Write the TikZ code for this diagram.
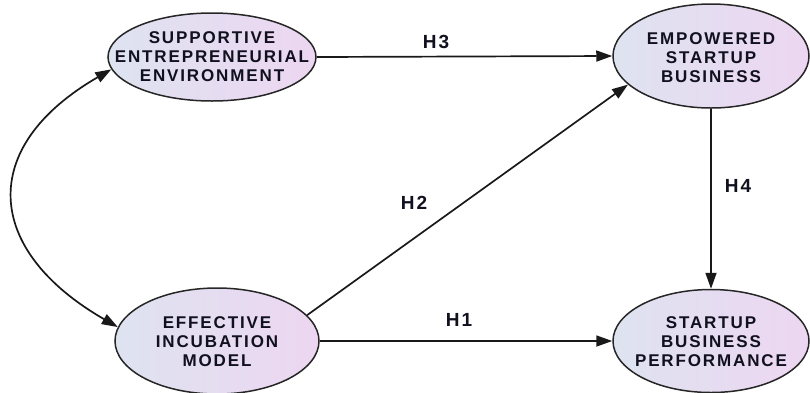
\documentclass[tikz,border=0pt]{standalone}
\usepackage{fontspec}
\setmainfont{Liberation Sans}
\usetikzlibrary{arrows.meta,shapes.geometric}
\definecolor{ellL}{HTML}{DEE3F0}
\definecolor{ellR}{HTML}{EDD6F1}
\definecolor{txt}{HTML}{10101E}
\tikzset{
  construct/.style={ellipse, draw=black!85, line width=1.5pt, left color=ellL, right color=ellR, inner sep=0pt},
  ctext/.style={align=center, text=txt, font=\fontsize{17}{19}\selectfont\bfseries\addfontfeatures{LetterSpace=11}},
  hyp/.style={text=txt, font=\fontsize{19}{21}\selectfont\bfseries\addfontfeatures{LetterSpace=10}},
  path/.style={draw=black!90, line width=1.7pt, -{Triangle[length=16pt,width=11pt]}},
  dpath/.style={draw=black!90, line width=1.7pt, {Triangle[length=16pt,width=11pt]}-{Triangle[length=16pt,width=11pt]}}
}
\begin{document}
\begin{tikzpicture}[x=1pt,y=-1pt]
\useasboundingbox (0,0) rectangle (810,392);
\node[construct, minimum width=208pt, minimum height=88pt] (sup) at (212,57) {};
\node[construct, minimum width=196pt, minimum height=104pt] (emp) at (711,56) {};
\node[construct, minimum width=204pt, minimum height=106pt] (eff) at (217,341) {};
\node[construct, minimum width=196pt, minimum height=103pt] (perf) at (711,341) {};
\node[ctext] (supT) at (sup.center) {SUPPORTIVE\\ENTREPRENEURIAL\\ENVIRONMENT};
\node[ctext] (empT) at ([yshift=-2pt]emp.center) {EMPOWERED\\STARTUP\\BUSINESS};
\node[ctext] (effT) at ([yshift=-1pt]eff.center) {EFFECTIVE\\INCUBATION\\MODEL};
\node[ctext] (perfT) at ([yshift=-1pt]perf.center) {STARTUP\\BUSINESS\\PERFORMANCE};
\draw[path] (sup.east) -- (emp.west);
\draw[path] (eff.16) -- (emp.199);
\draw[path] (eff.east) -- (perf.west);
\draw[path] (emp.south) -- (perf.north);
\draw[dpath] (sup.187) .. controls (-23,147) and (-16,250) .. (eff.172);
\node[hyp] (h3) at (436,42) {H3};
\node[hyp] (h2) at (414,203) {H2};
\node[hyp] (h1) at (459,320) {H1};
\node[hyp] (h4) at (738,186) {H4};
\end{tikzpicture}
\end{document}
